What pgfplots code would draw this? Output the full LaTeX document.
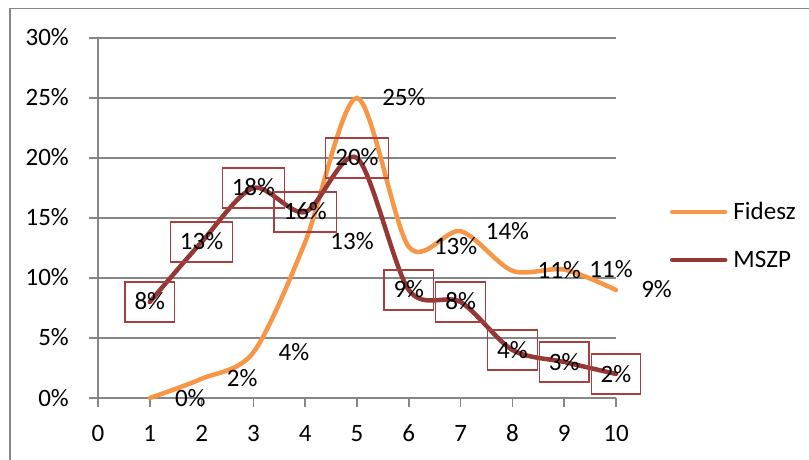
\documentclass[border=0pt]{standalone}
\usepackage{pgfplots}
\pgfplotsset{compat=1.18}
\usepackage{fontspec}
\setmainfont{Carlito}
\definecolor{fid}{HTML}{F79646}
\definecolor{msz}{HTML}{953735}
\definecolor{boxred}{HTML}{A5403E}
\definecolor{gridgray}{HTML}{868686}
\begin{document}
\begin{tikzpicture}[font=\fontsize{25bp}{30bp}\selectfont]
\path[use as bounding box] (0,0) rectangle (809bp,460bp);
\draw[gridgray, line width=1.5bp] (9.75bp,-20bp) -- (9.75bp,451.5bp) -- (830bp,451.5bp);
\begin{axis}[
  at={(98bp,62bp)}, anchor=south west,
  scale only axis, width=518bp, height=360bp,
  xmin=0, xmax=10, ymin=0, ymax=30,
  clip=false,
  axis x line*=bottom, axis y line*=left,
  axis line style={gridgray, line width=1.5bp, -},
  xtick={0,...,10}, ytick={0,5,...,30},
  ymajorgrids, grid style={gridgray, line width=1.5bp},
  tick align=outside, major tick length=9bp,
  tick style={gridgray, line width=1.5bp},
  yticklabel={\pgfmathprintnumber{\tick}\%},
  /pgf/number format/assume math mode=true,
  every tick label/.append style={inner sep=0pt, text height=16bp, text depth=0bp, text=black},
  yticklabel style={xshift=-20bp},
  xticklabel style={yshift=-18bp},
  legend style={at={(rel axis cs:1.1042,0.5389)}, anchor=north west, draw=none, fill=none,
    inner sep=0pt, outer sep=0pt, row sep=32bp, column sep=6bp,
    nodes={inner sep=0pt, text height=16bp, text depth=0bp}},
  legend cell align=left,
  legend image code/.code={\draw[#1] (0bp,0bp) -- (53bp,0bp);},
]
\addplot[fid, line width=4.5bp, smooth, line cap=round,
  nodes near coords, point meta=explicit symbolic,
  nodes near coords style={anchor=west, xshift=23bp, inner sep=0pt, text height=16bp, text depth=0bp, text=black}]
  coordinates {(1,0)[0\%] (2,1.6)[2\%] (3,3.8)[4\%] (4,13)[13\%] (5,25)[25\%] (6,12.6)[13\%] (7,13.9)[14\%] (8,10.6)[11\%] (9,10.7)[11\%] (10,9)[9\%]};
\addlegendentry{Fidesz}
\addplot[msz, line width=4.5bp, smooth, line cap=round,
  nodes near coords, point meta=explicit symbolic,
  nodes near coords style={anchor=center, draw=boxred, line width=1.2bp, inner xsep=9.5bp, inner ysep=12bp, text height=16bp, text depth=0bp, text=black}]
  coordinates {(1,8)[8\%] (2,13)[13\%] (3,17.5)[18\%] (4,15.5)[16\%] (5,20)[20\%] (6,9)[9\%] (7,8)[8\%] (8,4)[4\%] (9,3)[3\%] (10,2)[2\%]};
\addlegendentry{MSZP}
\end{axis}
\end{tikzpicture}
\end{document}
